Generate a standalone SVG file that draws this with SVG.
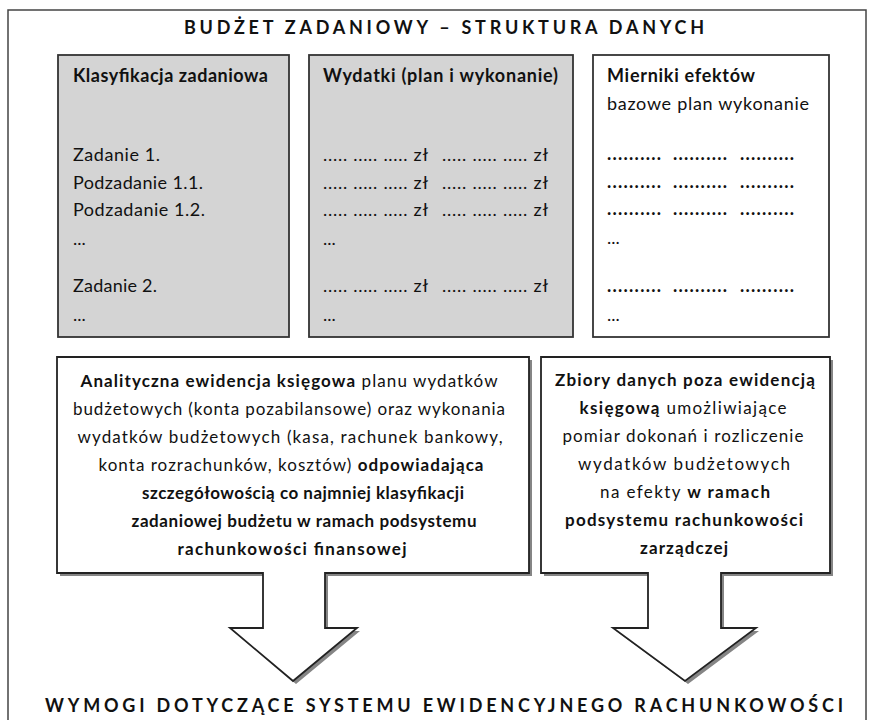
<svg xmlns="http://www.w3.org/2000/svg" width="873" height="720" viewBox="0 0 873 720">
<style>
text{font-family:Lato,"Open Sans","Noto Sans",sans-serif;fill:#111}
.t{font-size:18px}
.b{font-weight:bold}
.h{font-size:18px;font-weight:bold;letter-spacing:2px}
.c{font-size:17px;text-anchor:middle}
.gray{fill:#d4d4d4;stroke:#333;stroke-width:1.8}
.white{fill:#fff;stroke:#333;stroke-width:1.8}
.shadow{fill:#858585}
.call{fill:#fff;stroke:#222;stroke-width:1.8;stroke-linejoin:miter}
</style>
<rect x="0" y="0" width="873" height="720" fill="#fff"/>
<rect x="8" y="10" width="858" height="730" fill="none" stroke="#444" stroke-width="1.5"/>
<text class="h" x="184" y="34" textLength="522">BUDŻET ZADANIOWY – STRUKTURA DANYCH</text>

<g id="klasyfikacja">
<rect class="gray" x="58" y="55" width="231" height="282"/>
<text class="t b" x="73" y="82" textLength="195">Klasyfikacja zadaniowa</text>
<text class="t" x="73" y="161" textLength="87">Zadanie 1.</text>
<text class="t" x="73" y="189" textLength="130">Podzadanie 1.1.</text>
<text class="t" x="73" y="216" textLength="132">Podzadanie 1.2.</text>
<text class="t" x="73" y="245">...</text>
<text class="t" x="73" y="292" textLength="84">Zadanie 2.</text>
<text class="t" x="73" y="321">...</text>
</g>

<g id="wydatki">
<rect class="gray" x="309" y="55" width="264" height="282"/>
<text class="t b" x="323" y="82" textLength="235">Wydatki (plan i wykonanie)</text>
<text class="t" x="323" y="161" textLength="105">..... ..... ..... zł</text>
<text class="t" x="442" y="161" textLength="106">..... ..... ..... zł</text>
<text class="t" x="323" y="189" textLength="105">..... ..... ..... zł</text>
<text class="t" x="442" y="189" textLength="106">..... ..... ..... zł</text>
<text class="t" x="323" y="216" textLength="105">..... ..... ..... zł</text>
<text class="t" x="442" y="216" textLength="106">..... ..... ..... zł</text>
<text class="t" x="323" y="245">...</text>
<text class="t" x="323" y="292" textLength="105">..... ..... ..... zł</text>
<text class="t" x="442" y="292" textLength="106">..... ..... ..... zł</text>
<text class="t" x="323" y="321">...</text>
</g>

<g id="mierniki">
<rect class="white" x="593" y="55" width="236" height="282"/>
<text class="t b" x="607" y="82" textLength="148">Mierniki efektów</text>
<text class="t" x="607" y="110" textLength="202">bazowe plan wykonanie</text>
<text class="t b" x="607" y="160" textLength="54">..........</text>
<text class="t b" x="673" y="160" textLength="54">..........</text>
<text class="t b" x="740" y="160" textLength="54">..........</text>
<text class="t b" x="607" y="188" textLength="54">..........</text>
<text class="t b" x="673" y="188" textLength="54">..........</text>
<text class="t b" x="740" y="188" textLength="54">..........</text>
<text class="t b" x="607" y="215" textLength="54">..........</text>
<text class="t b" x="673" y="215" textLength="54">..........</text>
<text class="t b" x="740" y="215" textLength="54">..........</text>
<text class="t" x="607" y="244">...</text>
<text class="t b" x="607" y="292" textLength="54">..........</text>
<text class="t b" x="673" y="292" textLength="54">..........</text>
<text class="t b" x="740" y="292" textLength="54">..........</text>
<text class="t" x="607" y="321">...</text>
</g>

<g id="ewidencja-ksiegowa">
<path class="shadow" d="M60,360 H532 V576 H328 V631 H360 L296,684 L233,631 H266 V576 H60 Z"/>
<path class="call" d="M57,357 H529 V573 H325 V628 H357 L293,681 L230,628 H263 V573 H57 Z"/>
<text class="c" x="289" y="387" textLength="417"><tspan class="b">Analityczna ewidencja księgowa</tspan> planu wydatków</text>
<text class="c" x="289" y="415" textLength="432">budżetowych (konta pozabilansowe) oraz wykonania</text>
<text class="c" x="290" y="443" textLength="425">wydatków budżetowych (kasa, rachunek bankowy,</text>
<text class="c" x="291" y="471" textLength="385">konta rozrachunków, kosztów) <tspan class="b">odpowiadająca</tspan></text>
<text class="c b" x="303" y="499" textLength="322">szczegółowością co najmniej klasyfikacji</text>
<text class="c b" x="304" y="527" textLength="345">zadaniowej budżetu w ramach podsystemu</text>
<text class="c b" x="292" y="555" textLength="229">rachunkowości finansowej</text>
</g>

<g id="zbiory-danych">
<path class="shadow" d="M544,360 H833 V576 H724 V631 H759 L688,684 L616,631 H651 V576 H544 Z"/>
<path class="call" d="M541,357 H830 V573 H721 V628 H756 L685,681 L613,628 H648 V573 H541 Z"/>
<text class="c b" x="685" y="386" textLength="260">Zbiory danych poza ewidencją</text>
<text class="c" x="683" y="414" textLength="207"><tspan class="b">księgową</tspan> umożliwiające</text>
<text class="c" x="683" y="442" textLength="241">pomiar dokonań i rozliczenie</text>
<text class="c" x="684" y="470" textLength="212">wydatków budżetowych</text>
<text class="c" x="685" y="498" textLength="170">na efekty <tspan class="b">w ramach</tspan></text>
<text class="c b" x="684" y="526" textLength="238">podsystemu rachunkowości</text>
<text class="c b" x="684" y="554" textLength="88">zarządczej</text>
</g>

<text class="h" x="45" y="712" textLength="800">WYMOGI DOTYCZĄCE SYSTEMU EWIDENCYJNEGO RACHUNKOWOŚCI</text>
</svg>
